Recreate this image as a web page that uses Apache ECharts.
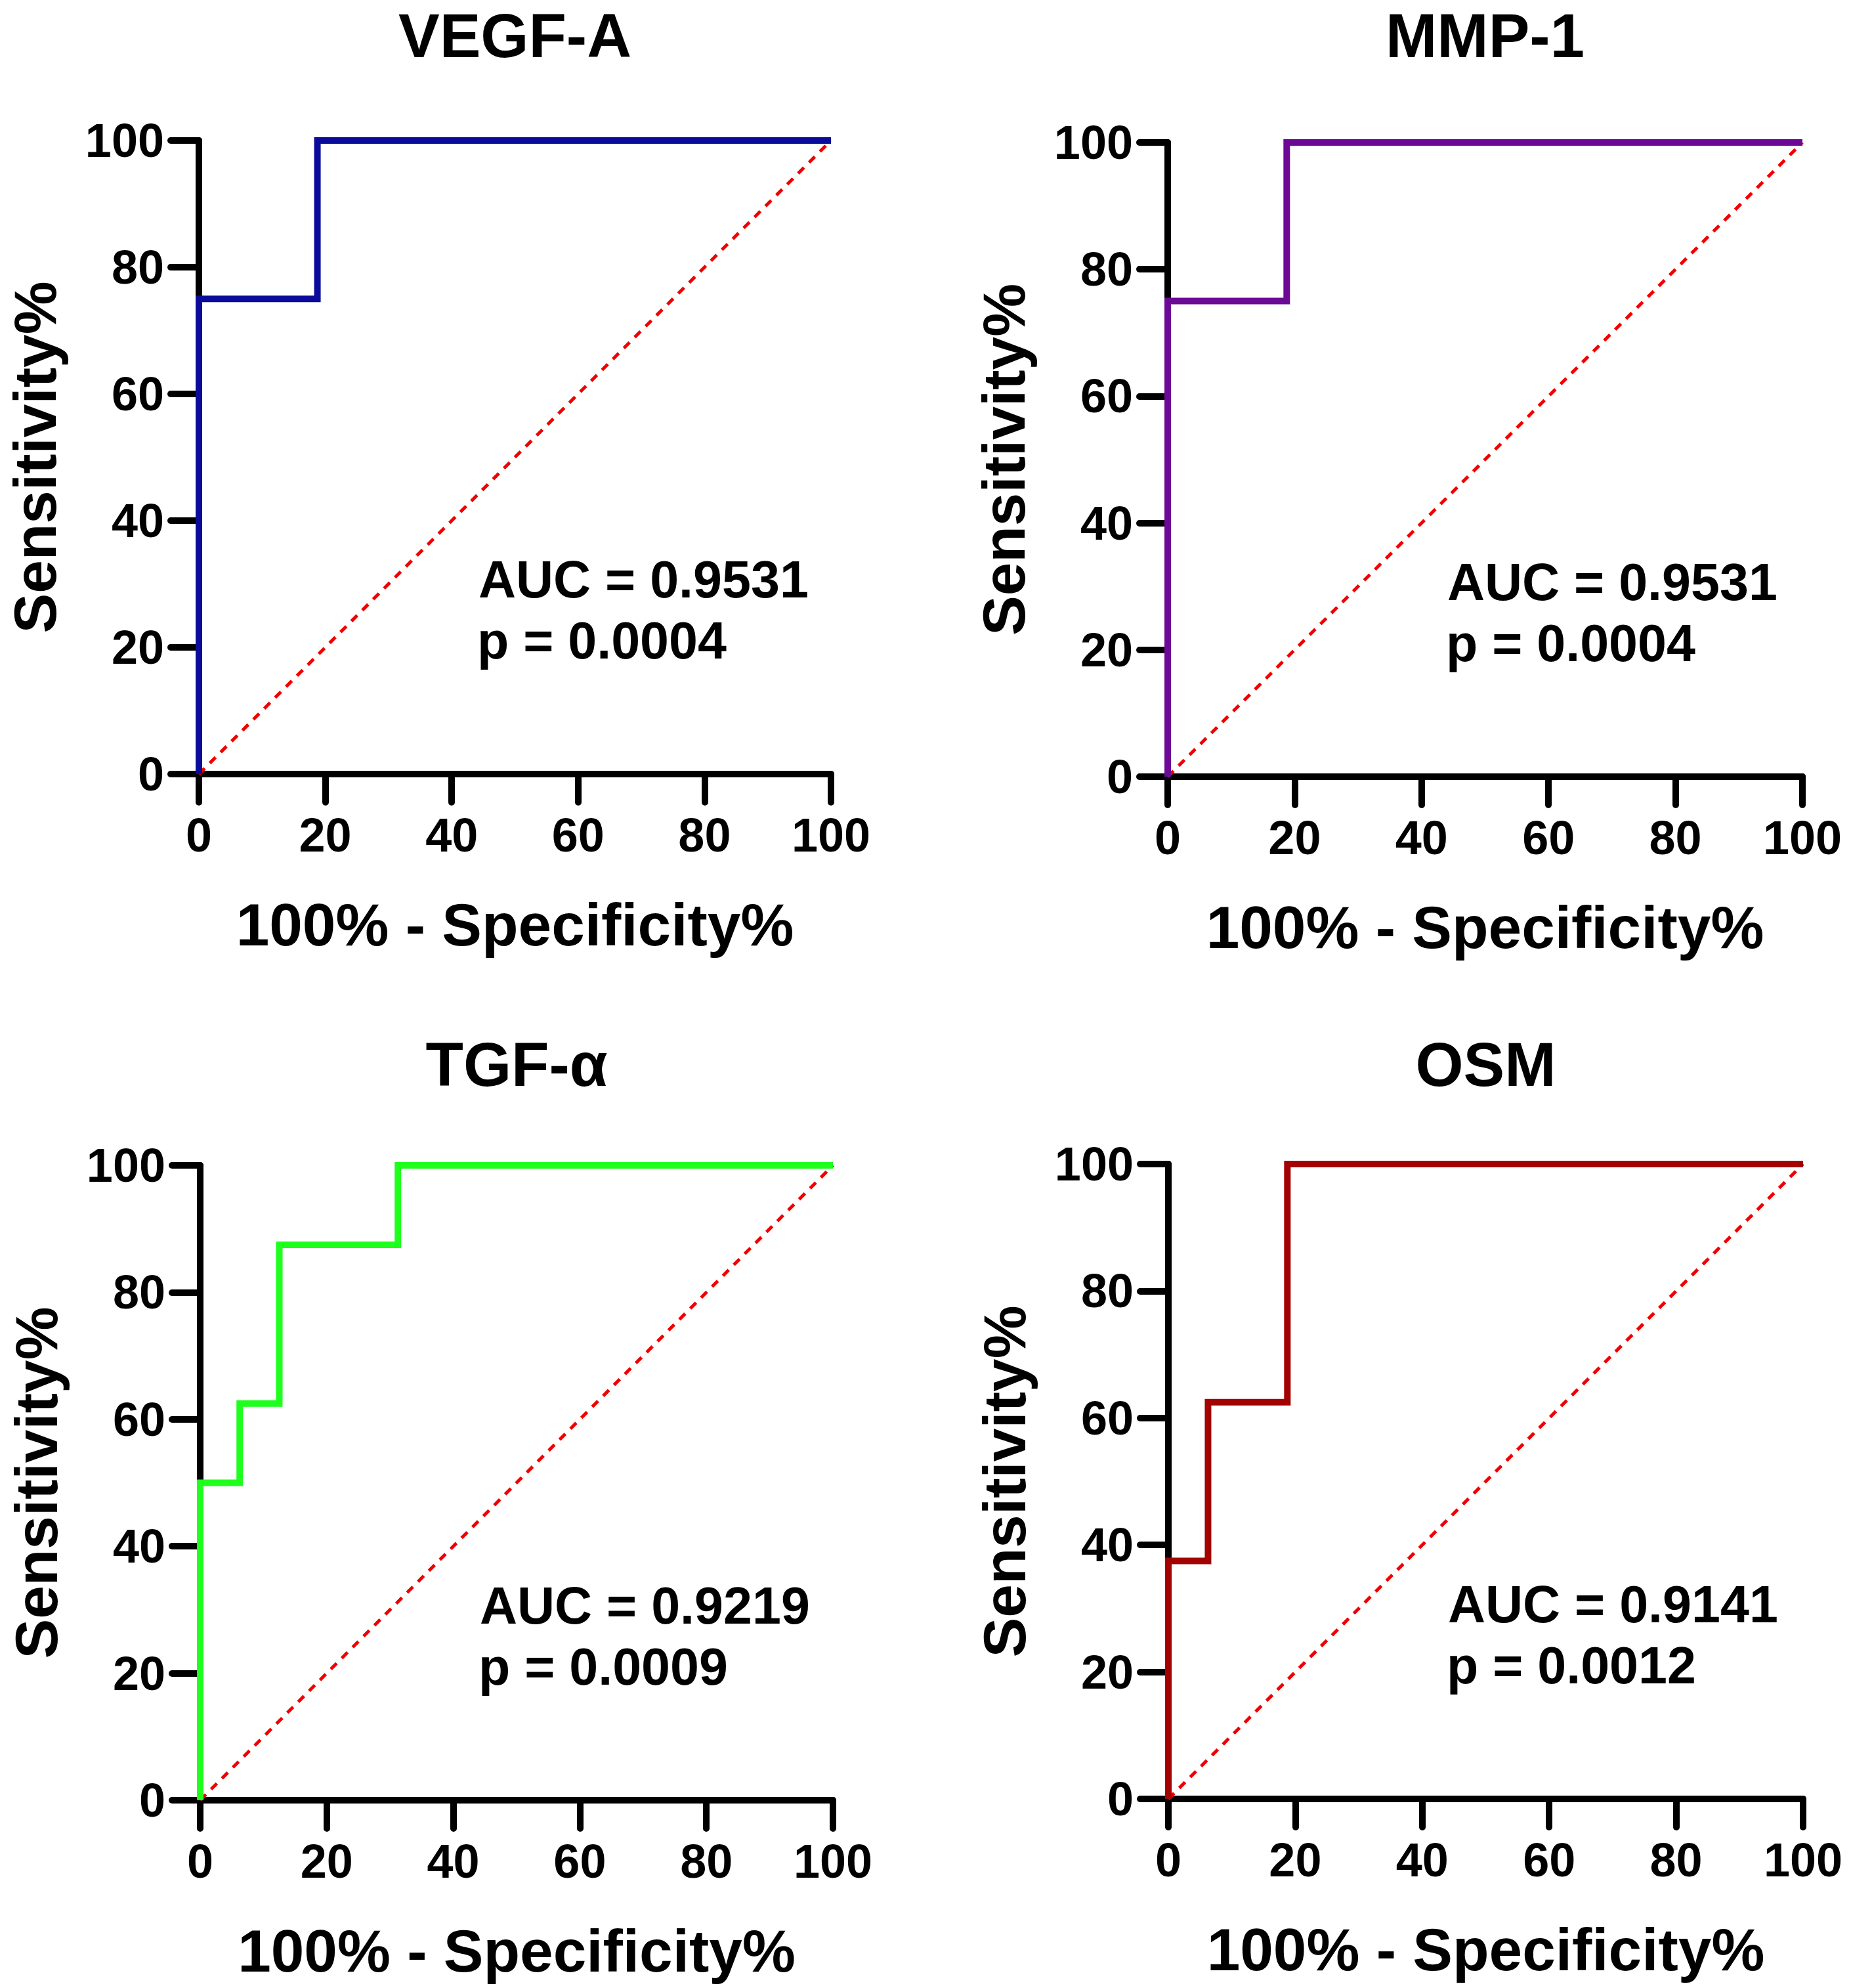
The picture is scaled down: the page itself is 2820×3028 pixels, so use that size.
<!DOCTYPE html>
<html>
<head>
<meta charset="utf-8">
<script src="https://cdn.jsdelivr.net/npm/echarts@6/dist/echarts.min.js"></script>
<style>
html,body{margin:0;padding:0;background:#fff;}
#chart{width:2820px;height:3028px;}
</style>
</head>
<body>
<div id="chart"></div>
<script>
// ---- data ----
const panelTitles = ['VEGF-A', 'MMP-1', 'TGF-\u03b1', 'OSM'];
const aucTexts = ['AUC = 0.9531', 'AUC = 0.9531', 'AUC = 0.9219', 'AUC = 0.9141'];
const pTexts = ['p = 0.0004', 'p = 0.0004', 'p = 0.0009', 'p = 0.0012'];
const axisTicks = [0, 20, 40, 60, 80, 100];
const xAxisName = '100% - Specificity%';
const yAxisName = 'Sensitivity%';

const vegfX = [0, 0, 18.75, 18.75, 100];
const vegfY = [0, 75, 75, 100, 100];
const mmpX = [0, 0, 18.75, 18.75, 100];
const mmpY = [0, 75, 75, 100, 100];
const tgfX = [0, 0, 6.25, 6.25, 12.5, 12.5, 31.25, 31.25, 100];
const tgfY = [0, 50, 50, 62.5, 62.5, 87.5, 87.5, 100, 100];
const osmX = [0, 0, 6.25, 6.25, 18.75, 18.75, 100];
const osmY = [0, 37.5, 37.5, 62.5, 62.5, 100, 100];
const refX = [0, 100];
const refY = [0, 100];

// ---- layout / style ----
const curves = [[vegfX, vegfY], [mmpX, mmpY], [tgfX, tgfY], [osmX, osmY]];
const colors = ['#0b0b9b', '#6c0a96', '#1eff1e', '#a30202'];
const grids = [
  {left: 303, top: 214, width: 963, height: 965},
  {left: 1779, top: 217, width: 967, height: 966},
  {left: 305, top: 1775, width: 964, height: 967},
  {left: 1780, top: 1773, width: 967, height: 967}
];
const FONT = '"Liberation Sans", Arial, Helvetica, sans-serif';

function zip(xs, ys) { return xs.map((x, i) => [x, ys[i]]); }

const axisCommon = {
  type: 'value', min: 0, max: 100, interval: 20,
  axisLine: {show: true, onZero: false, lineStyle: {color: '#000', width: 10, cap: 'round'}},
  axisTick: {show: true, length: 43, lineStyle: {color: '#000', width: 10, cap: 'round'}},
  splitLine: {show: false},
  nameLocation: 'middle',
  nameTextStyle: {fontSize: 91, fontWeight: 'bold', color: '#000', fontFamily: FONT}
};

const option = {
  animation: false,
  backgroundColor: '#fff',
  grid: grids.map(g => Object.assign({containLabel: false}, g)),
  xAxis: grids.map((g, i) => Object.assign({}, axisCommon, {
    gridIndex: i,
    name: xAxisName,
    nameGap: 184,
    axisLabel: {fontSize: 72, fontWeight: 'bold', color: '#000', margin: 57, fontFamily: FONT,
      formatter: v => axisTicks.includes(v) ? String(v) : ''}
  })),
  yAxis: grids.map((g, i) => Object.assign({}, axisCommon, {
    gridIndex: i,
    name: yAxisName,
    nameGap: 204,
    axisLabel: {fontSize: 72, fontWeight: 'bold', color: '#000', margin: 53, fontFamily: FONT,
      formatter: v => axisTicks.includes(v) ? String(v) : ''}
  })),
  series: [],
  graphic: []
};

curves.forEach((c, i) => {
  option.series.push({
    type: 'line', xAxisIndex: i, yAxisIndex: i,
    data: zip(refX, refY), showSymbol: false, symbol: 'none', clip: false, z: 3,
    lineStyle: {color: '#f00000', width: 5, type: [12.5, 11]}
  });
  option.series.push({
    type: 'line', xAxisIndex: i, yAxisIndex: i,
    data: zip(c[0], c[1]), showSymbol: false, symbol: 'none', clip: false, z: 4,
    lineStyle: {color: colors[i], width: 10, join: 'miter', cap: 'butt'}
  });
  const g = grids[i];
  const top = i < 2 ? 54 : 1621;
  option.graphic.push({
    type: 'text', x: g.left + g.width / 2, y: top,
    style: {text: panelTitles[i], font: 'bold 94px ' + FONT, fill: '#000', align: 'center', verticalAlign: 'middle'}
  });
  const y0 = g.top + g.height;
  option.graphic.push({
    type: 'text', x: g.left + 426, y: y0 - 297,
    style: {text: aucTexts[i], font: 'bold 79px ' + FONT, fill: '#000', align: 'left', verticalAlign: 'middle'}
  });
  option.graphic.push({
    type: 'text', x: g.left + 424, y: y0 - 204,
    style: {text: pTexts[i], font: 'bold 79px ' + FONT, fill: '#000', align: 'left', verticalAlign: 'middle'}
  });
});

const chart = echarts.init(document.getElementById('chart'), null, {renderer: 'svg', width: 2820, height: 3028});
chart.setOption(option);
</script>
</body>
</html>
